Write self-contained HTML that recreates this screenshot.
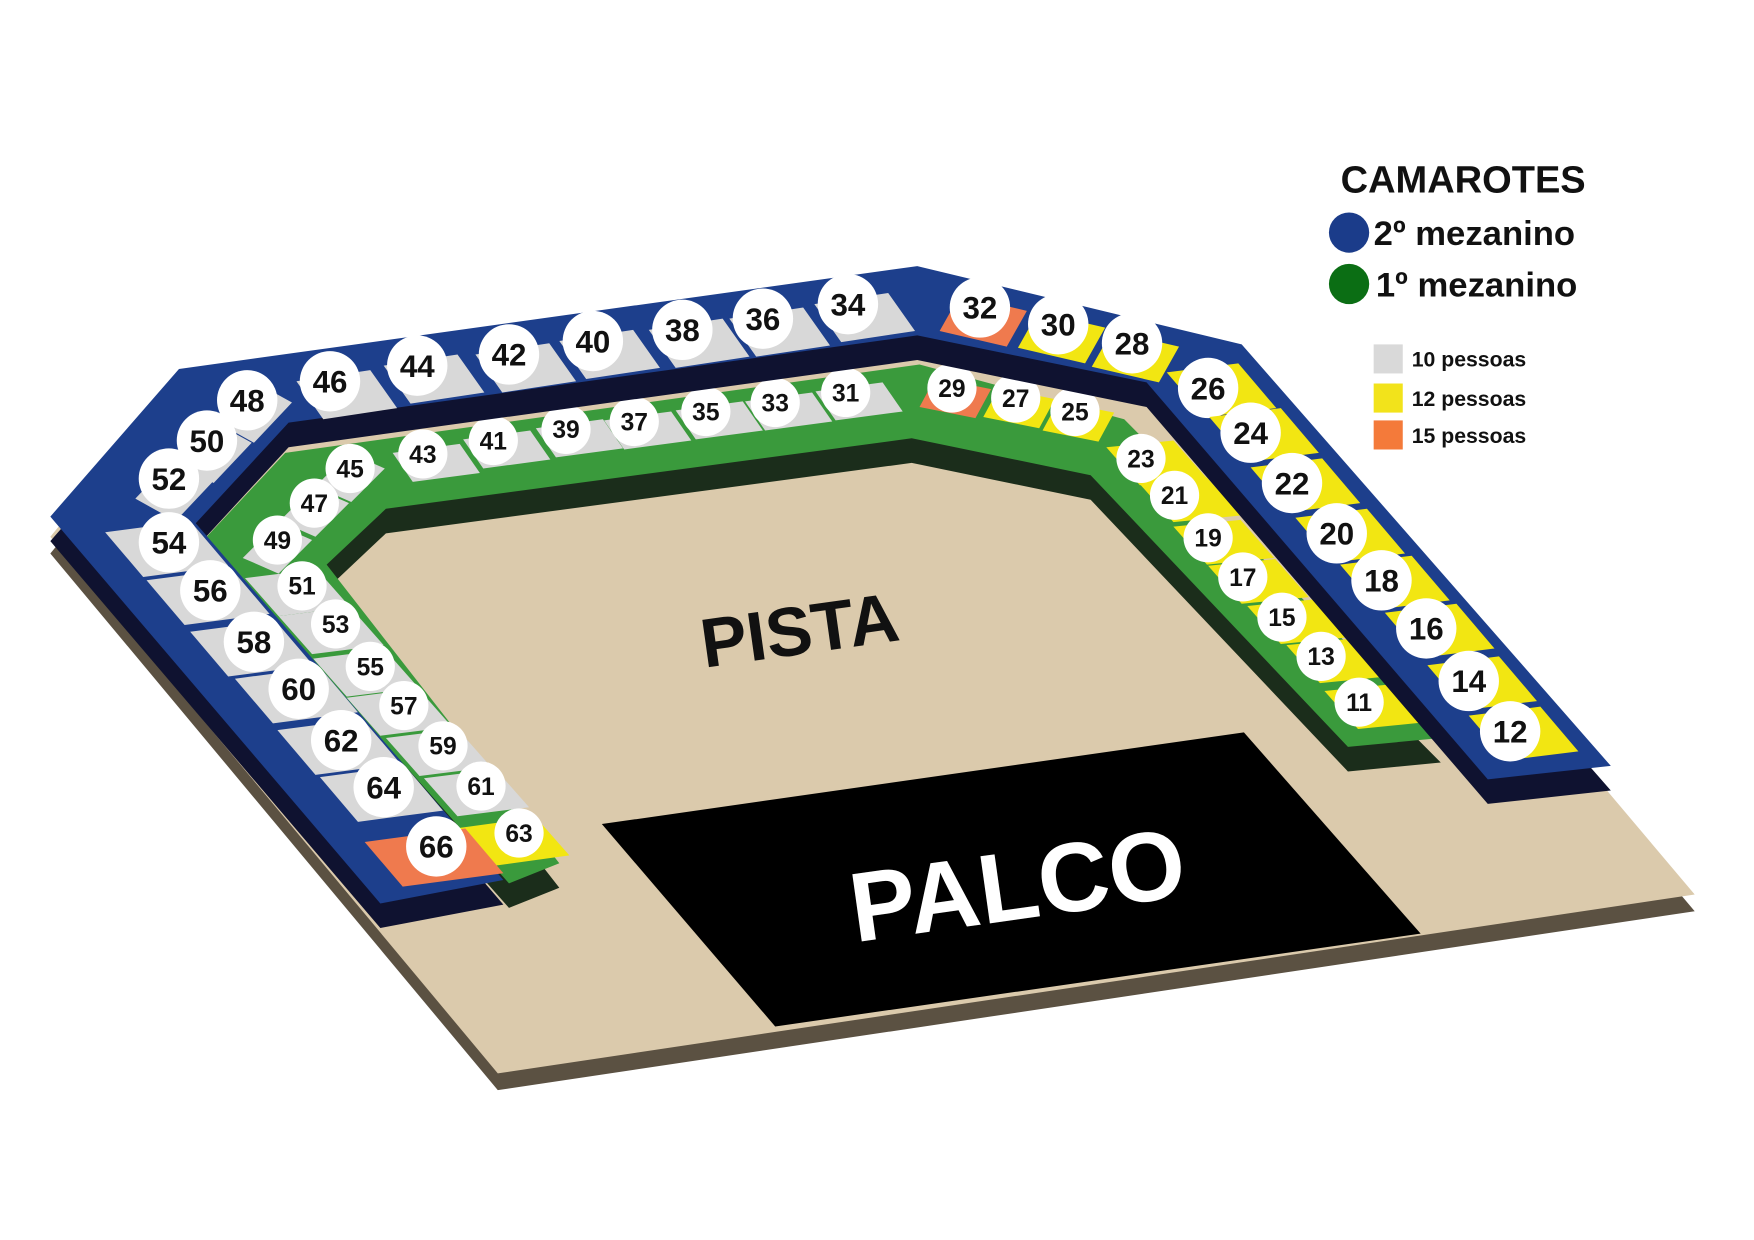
<!DOCTYPE html>
<html><head><meta charset="utf-8"><style>
html,body{margin:0;padding:0;background:#fff}
svg{display:block}
text{font-family:"Liberation Sans",sans-serif;font-weight:bold}
</style></head><body>
<svg id="s" width="1754" height="1240" viewBox="0 0 1568 1109" preserveAspectRatio="none" xmlns="http://www.w3.org/2000/svg">
<rect width="1568" height="1109" fill="#fff"/>
<g transform="translate(0,15)"><polygon fill="#5b5142" points="45,480 160,340 820,250 1110,320 1515,800 445,960"/></g>
<polygon fill="#dbcaac" points="45,480 160,340 820,250 1110,320 1515,800 445,960"/>
<polygon fill="#000" points="538,737 1112,655 1270,835 693,918"/>
<text x="715" y="585" font-size="62" fill="#111" text-anchor="middle" transform="rotate(-8 715 565)">PISTA</text>
<text x="910" y="822" font-size="88" fill="#fff" text-anchor="middle" transform="rotate(-8 910 795)">PALCO</text>
<g transform="translate(0,22)"><polygon fill="#1b2d1b" points="183,482 255,405 822,326 1005,375 1288,660 1205,668 975,425 815,392 345,455 292,505 500,772 455,790"/></g>
<polygon fill="#3a9a3c" points="183,482 255,405 822,326 1005,375 1288,660 1205,668 975,425 815,392 345,455 292,505 500,772 455,790"/>
<g id="gseats"></g>
<g transform="translate(0,22)"><polygon fill="#0f1230" points="45,462 160,330 820,238 1110,308 1440,685 1330,697 1025,342 820,300 258,378 175,468 450,787 340,808"/></g>
<polygon fill="#1d3f8c" points="45,462 160,330 820,238 1110,308 1440,685 1330,697 1025,342 820,300 258,378 175,468 450,787 340,808"/>
<g id="bseats"></g>
<text x="1308" y="172" font-size="34" fill="#111" text-anchor="middle">CAMAROTES</text>
<circle cx="1206" cy="208" r="18" fill="#1b3c8a"/>
<circle cx="1206" cy="254" r="18" fill="#0b6e14"/>
<text x="1228" y="219" font-size="31" fill="#111">2º mezanino</text>
<text x="1230" y="265" font-size="31" fill="#111">1º mezanino</text>
<rect x="1228" y="308" width="26" height="26" fill="#d9d9d9"/>
<rect x="1228" y="343" width="26" height="26" fill="#f2e31b"/>
<rect x="1228" y="376" width="26" height="26" fill="#f47a3a"/>
<text x="1262" y="328" font-size="19" fill="#111">10 pessoas</text>
<text x="1262" y="363" font-size="19" fill="#111">12 pessoas</text>
<text x="1262" y="396" font-size="19" fill="#111">15 pessoas</text>
</svg>
<script>
var NS="http://www.w3.org/2000/svg";
var C={g:"#d8d8d8",y:"#f2e612",o:"#ef7a4e"};
function seat(gid,n,cx,cy,col,u,v,off,r,fs){
  var g=document.getElementById(gid);
  var x=cx+off[0],y=cy+off[1];
  var p=document.createElementNS(NS,"polygon");
  p.setAttribute("points",[[x-u[0]-v[0],y-u[1]-v[1]],[x+u[0]-v[0],y+u[1]-v[1]],[x+u[0]+v[0],y+u[1]+v[1]],[x-u[0]+v[0],y-u[1]+v[1]]].map(function(a){return a.join(",")}).join(" "));
  p.setAttribute("fill",C[col]);g.appendChild(p);
  var c=document.createElementNS(NS,"circle");c.setAttribute("cx",cx);c.setAttribute("cy",cy);c.setAttribute("r",r);c.setAttribute("fill","#fff");g.appendChild(c);
  var t=document.createElementNS(NS,"text");t.setAttribute("x",cx);t.setAttribute("y",cy+fs*0.36);t.setAttribute("font-size",fs);t.setAttribute("text-anchor","middle");t.setAttribute("fill","#111");t.textContent=n;g.appendChild(t);
}
function B(n,x,y,c,u,v,o){seat("bseats",n,x,y,c,u,v,o,27,28)}
function G(n,x,y,c,u,v,o){seat("gseats",n,x,y,c,u,v,o,22,22)}
// blue top
[[34,758,272],[36,682,285],[38,610,295],[40,530,305],[42,455,317],[44,373,327],[46,295,341]].forEach(function(a){B(a[0],a[1],a[2],"g",[33,-5],[12,17],[15,12])});
[[48,221,358],[50,185,394],[52,151,428]].forEach(function(a){B(a[0],a[1],a[2],"g",[17,-18],[18,10],[5,10])});
B(32,876,275,"o",[30,7],[-9,16],[3,12]);B(30,946,290,"y",[30,7],[-9,16],[3,12]);B(28,1012,307,"y",[30,7],[-9,16],[3,12]);
[[26,1080,347],[24,1118,387],[22,1155,432],[20,1195,477],[18,1235,519],[16,1275,562],[14,1313,609],[12,1350,654]].forEach(function(a){B(a[0],a[1],a[2],"y",[17,20],[32,-4],[12,2])});
[[54,151,485],[56,188,528],[58,227,574],[60,267,616],[62,305,662],[64,343,704]].forEach(function(a){B(a[0],a[1],a[2],"g",[17,20],[38,-5],[-2,6])});
B(66,390,757,"o",[17,20],[45,-6],[-2,10]);
// green
[[31,756,351],[33,693,360],[35,631,368],[37,567,377],[39,506,384],[41,441,394],[43,378,406]].forEach(function(a){G(a[0],a[1],a[2],"g",[30,-4],[9,13],[12,8])});
[[45,313,419],[47,281,450],[49,248,483]].forEach(function(a){G(a[0],a[1],a[2],"g",[15,-15],[16,7],[0,8])});
G(29,851,347,"o",[25,5],[-7,13],[3,9]);G(27,908,356,"y",[25,5],[-7,13],[3,9]);G(25,961,368,"y",[25,5],[-7,13],[3,9]);
[[23,1020,410],[21,1050,443],[19,1080,481],[17,1111,516],[15,1146,552],[13,1181,587],[11,1215,628]].forEach(function(a){G(a[0],a[1],a[2],"y",[15,17],[30,-3],[14,4])});
[[51,270,524],[53,300,558],[55,331,596],[57,361,631],[59,396,667],[61,430,703]].forEach(function(a){G(a[0],a[1],a[2],"g",[15,17],[32,-4],[-4,6])});
G(63,464,745,"y",[15,17],[36,-5],[-6,8]);
</script>
</body></html>
